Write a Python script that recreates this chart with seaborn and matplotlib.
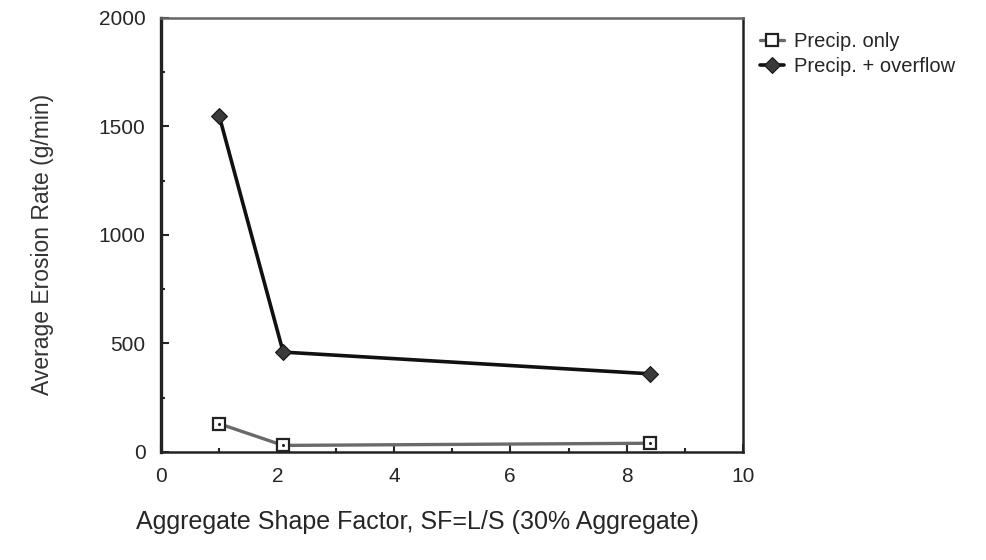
import matplotlib
matplotlib.use('Agg')
import matplotlib.pyplot as plt
import pandas as pd
import seaborn as sns
from matplotlib.ticker import MultipleLocator

# values
shape_factor = [1.0, 2.1, 8.4]
precip_only = [130, 30, 40]
precip_overflow = [1550, 460, 360]
series_names = ['Precip. only', 'Precip. + overflow']

df = pd.DataFrame({
    'sf': shape_factor * 2,
    'rate': precip_only + precip_overflow,
    'series': [series_names[0]] * 3 + [series_names[1]] * 3,
})
only = df[df.series == series_names[0]]
over = df[df.series == series_names[1]]

sns.set_style('ticks')
plt.rcParams['font.family'] = ['Liberation Sans', 'DejaVu Sans']

fig = plt.figure(figsize=(9.87, 5.6), dpi=100)
ax = fig.add_axes([0.163, 0.193, 0.59, 0.775])

sns.lineplot(data=only, x='sf', y='rate', ax=ax,
             color='#6a6a6a', lw=2.4, marker='s', ms=9, mfc='white',
             mec='#222222', mew=1.6, label=series_names[0])
# small dot in the middle of the open squares
sns.scatterplot(data=only, x='sf', y='rate', ax=ax, color='#222222',
                s=5, linewidth=0, zorder=5, legend=False)
sns.lineplot(data=over, x='sf', y='rate', ax=ax,
             color='#111111', lw=2.6, marker='D', ms=8, mfc='#3a3a3a',
             mec='#111111', label=series_names[1])

ax.set_xlim(0, 10)
ax.set_ylim(0, 2000)
ax.xaxis.set_major_locator(MultipleLocator(2))
ax.xaxis.set_minor_locator(MultipleLocator(1))
ax.yaxis.set_major_locator(MultipleLocator(500))
ax.yaxis.set_minor_locator(MultipleLocator(250))
ax.tick_params(which='both', direction='in', top=False, right=False,
               labelsize=15, width=1.5)
ax.tick_params(which='major', length=6, pad=11)
ax.tick_params(which='minor', length=3)
for s in ax.spines.values():
    s.set_linewidth(1.8)
    s.set_color('#222222')
ax.spines['top'].set_color('#666666')
ax.spines['left'].set_linewidth(2.4)

ax.set_xlabel('Aggregate Shape Factor, SF=L/S (30% Aggregate)', fontsize=18,
              labelpad=17)
ax.xaxis.label.set_x(0.44)
ax.set_ylabel('Average Erosion Rate (g/min)', fontsize=16.5, color='#333333',
              labelpad=32)
ax.yaxis.label.set_y(0.477)

ax.legend(loc='upper left', bbox_to_anchor=(1.005, 1.0), frameon=False,
          fontsize=14.5, handlelength=1.2, handletextpad=0.5, labelspacing=0.3,
          borderaxespad=0.3)

fig.savefig('out.png', dpi=100)
